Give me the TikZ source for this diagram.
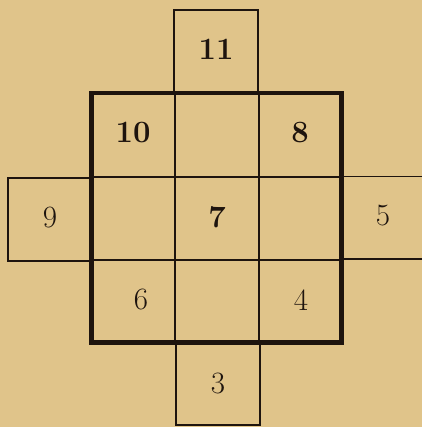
\documentclass[tikz,border=0pt]{standalone}
\begin{document}
\begin{tikzpicture}[x=1pt,y=-1pt,
  thin/.style={line width=1.4pt,draw=ink},
  thickb/.style={line width=4.2pt,draw=ink,line join=miter},
  numb/.style={font=\fontsize{31}{36}\selectfont\bfseries,text=ink,inner sep=0pt},
  numr/.style={font=\fontsize{31}{36}\selectfont,text=ink,inner sep=0pt}]
\definecolor{paper}{RGB}{224,196,138}
\definecolor{ink}{RGB}{30,20,14}
\fill[paper] (0,0) rectangle (422,427);
\useasboundingbox (0,0) rectangle (422,427);
% outer boxes
\draw[thin] (174,93) -- (174,10) -- (258,10) -- (258,93);
\draw[thin] (91.5,178) -- (8,178) -- (8,261) -- (91.5,261);
\draw[thin] (341.5,176.5) -- (422,176.5);
\draw[thin] (341.5,259) -- (422,259);
\draw[thin] (176,342.5) -- (176,425) -- (260,425) -- (260,342.5);
% grid
\draw[thin] (175,93) -- (175,342.5);
\draw[thin] (259,93) -- (259,342.5);
\draw[thin] (91.5,177) -- (341.5,177);
\draw[thin] (91.5,260) -- (341.5,260);
% thick border
\draw[thickb] (91.5,93) rectangle (341.5,342.5);
% numbers
\node[numb] (n11) at (216,49) {11};
\node[numb] (n10) at (133,133) {10};
\node[numb] (n8) at (300,133) {8};
\node[numr] (n9) at (50,218) {9};
\node[numb] (n7) at (217,217) {7};
\node[numr] (n5) at (383,216) {5};
\node[numr] (n6) at (141,300) {6};
\node[numr] (n4) at (301,300) {4};
\node[numr] (n3) at (218,383) {3};
\end{tikzpicture}
\end{document}
